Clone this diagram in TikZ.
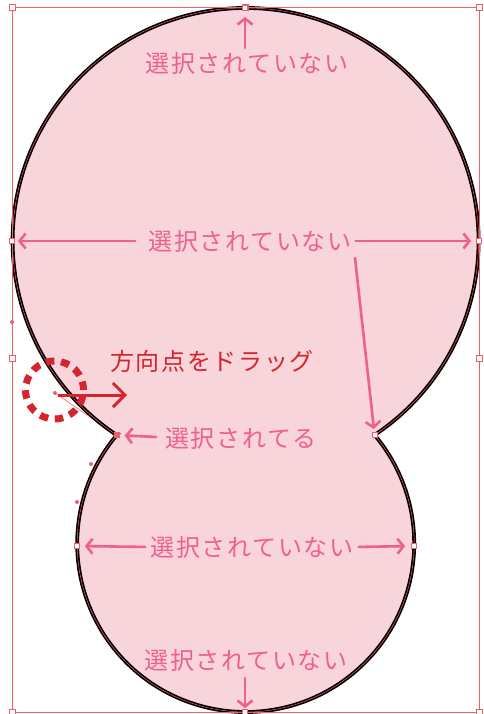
\documentclass[tikz,border=0pt]{standalone}
\usepackage{fontspec}
\newfontfamily\jpl[LetterSpace=7]{Noto Sans CJK JP}
\usetikzlibrary{arrows.meta}
\definecolor{fillpink}{RGB}{247,213,219}
\definecolor{lblpink}{RGB}{239,96,141}
\definecolor{dragred}{RGB}{212,36,46}
\definecolor{selred}{RGB}{240,96,106}
\begin{document}
\begin{tikzpicture}[x=1pt,y=-1pt,
  lbl/.style={font=\jpl\fontsize{24}{28}\selectfont, text=lblpink, inner sep=0pt},
  draglbl/.style={font=\jpl\fontsize{24}{28}\selectfont, text=dragred, inner sep=0pt},
  parr/.style={draw=lblpink, line width=2.6pt, line cap=round, -{Straight Barb[length=6pt,width=15pt]}},
  bbhandle/.style={draw=selred, fill=white, line width=0.8pt, minimum size=6pt, inner sep=0pt},
  anchorpt/.style={draw=selred, fill=white, line width=0.8pt, minimum size=5pt, inner sep=0pt},
  selpt/.style={draw=selred, fill=selred, line width=0.8pt, minimum size=5pt, inner sep=0pt},
  dirpt/.style={circle, fill=selred, minimum size=4pt, inner sep=0pt}]
\useasboundingbox (0,0) rectangle (484,714);

% shape (union of two circles)
\coordinate (cuspL) at (116.6,435);
\coordinate (cuspR) at (374.6,435);
\path[fill=fillpink] (cuspL) arc[start angle=236.38, end angle=-56.38, radius=233pt]
  arc[start angle=40.09, end angle=-220.09, radius=168.5pt] -- cycle;

% direction handle line
\node[dirpt] (dirH) at (55,393) {};
\draw[selred, line width=0.6pt] (dirH) -- (cuspL);

\draw[black, line width=3.8pt, line join=miter] (cuspL) arc[start angle=236.38, end angle=-56.38, radius=233pt]
  arc[start angle=40.09, end angle=-220.09, radius=168.5pt] -- cycle;
\draw[selred, line width=0.5pt] (cuspL) arc[start angle=236.38, end angle=-56.38, radius=233pt]
  arc[start angle=40.09, end angle=-220.09, radius=168.5pt] -- cycle;

% bounding box
\draw[selred, line width=0.9pt] (12,7) rectangle (479,712);
\foreach \p/\n in {{(12,7)}/h1,{(245,7)}/h2,{(479,7)}/h3,{(12,358)}/h4,{(479,358)}/h5,{(12,712)}/h6,{(479,712)}/h8}
  \node[bbhandle] (\n) at \p {};

% other direction points
\node[dirpt] (d1) at (12,322) {};
\node[dirpt] (d2) at (91,464) {};
\node[dirpt] (d3) at (77,502) {};

% anchor points
\node[anchorpt] (topA) at (245,8) {};
\node[anchorpt] (leftA) at (12,241) {};
\node[anchorpt] (rightA) at (479,241) {};
\node[anchorpt] (bleftA) at (77,546) {};
\node[anchorpt] (brightA) at (414,546) {};
\node[anchorpt] (botA) at (245,712) {};
\node[anchorpt] (cuspRA) at (cuspR) {};
\node[selpt] (cuspLA) at (cuspL) {};

% labels
\node[lbl] (toplbl) at (247,63) {選択されていない};
\node[lbl] (midlbl) at (250,241) {選択されていない};
\node[lbl] (sellbl) at (241,438) {選択されてる};
\node[lbl] (bmidlbl) at (252,547) {選択されていない};
\node[lbl] (botlbl) at (246,660) {選択されていない};
\node[draglbl] (draglbl) at (212,361) {方向点をドラッグ};

% pink arrows
\coordinate (topT) at (245,48);
\coordinate (cuspT) at (355,258);
\coordinate (selT) at (156,437);
\coordinate (botT) at (245,678);
\draw[parr, shorten >=6pt] (topT) -- (topA);
\draw[parr, shorten <=13pt, shorten >=3pt] (midlbl.west) -- (leftA);
\draw[parr, shorten <=4pt, shorten >=5pt] (midlbl.east) -- (rightA);
\draw[parr, shorten >=6pt] (cuspT) -- (cuspR);
\draw[parr, shorten >=8pt] (selT) -- (cuspL);
\draw[parr, shorten <=5pt, shorten >=5pt] (bmidlbl.west) -- (bleftA);
\draw[parr, shorten <=5pt, shorten >=6pt] (bmidlbl.east) -- (brightA);
\draw[parr, shorten >=1pt] (botT) -- (botA);

% drag marker
\draw[dragred, line width=7pt, dash pattern=on 8.5pt off 6.7pt] (54.5,390) circle[radius=29pt];
\coordinate (dragS) at (58,395);
\coordinate (dragE) at (127,395);
\draw[dragred, line width=3pt, -{Straight Barb[length=12pt,width=24pt]}] (dragS) -- (dragE);
\end{tikzpicture}
\end{document}
